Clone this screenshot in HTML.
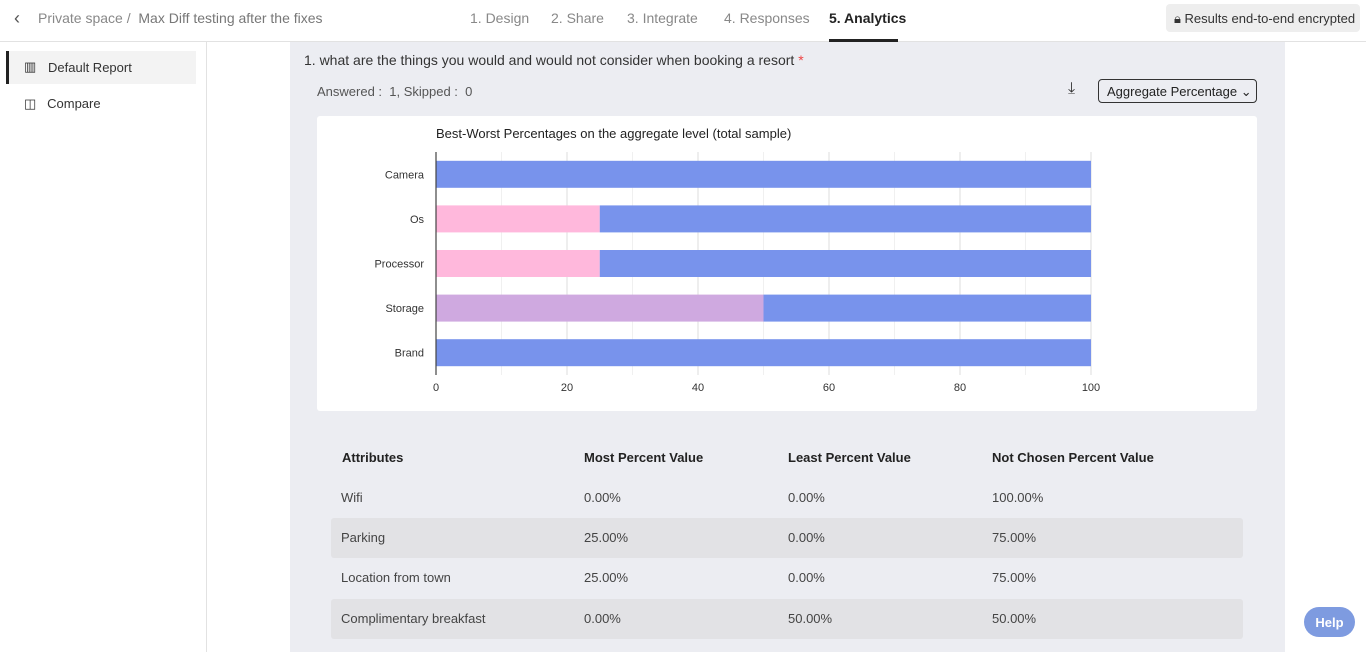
<!DOCTYPE html>
<html><head><meta charset="utf-8"><style>
*{box-sizing:border-box;margin:0;padding:0}
body{width:1366px;height:652px;overflow:hidden;background:#fff;font-family:"Liberation Sans",sans-serif;color:#333;position:relative}
.abs{position:absolute}
.top{left:0;top:0;width:1366px;height:42px;border-bottom:1px solid #e2e2e2}
.tab{top:10px;font-size:14px;color:#888}
.side{left:0;top:42px;width:207px;height:610px;border-right:1px solid #e2e2e2}
.main{left:290px;top:42px;width:995px;height:610px;background:#ecedf2}
.row{left:331px;width:912px;height:40px;font-size:13px;color:#444}
.row span{position:absolute;top:12px}
</style></head><body>
<div class="abs top">
 <div class="abs" style="left:14px;top:8px;font-size:18px;color:#555">‹</div>
 <div class="abs" style="left:38px;top:10px;font-size:14px;color:#888">Private space /&nbsp; <span style="color:#777">Max Diff testing after the fixes</span></div>
 <div class="abs tab" style="left:470px">1. Design</div>
 <div class="abs tab" style="left:551px">2. Share</div>
 <div class="abs tab" style="left:627px">3. Integrate</div>
 <div class="abs tab" style="left:724px">4. Responses</div>
 <div class="abs tab" style="left:829px;color:#222;font-weight:bold">5. Analytics</div>
 <div class="abs" style="left:829px;top:39px;width:69px;height:3px;background:#222"></div>
 <div class="abs" style="left:1166px;top:4px;width:194px;height:28px;background:#eeeeee;border-radius:4px;font-size:13px;color:#333;padding:7px 0 0 8px">🔒︎ Results end-to-end encrypted</div>
</div>
<div class="abs side">
 <div class="abs" style="left:6px;top:9px;width:190px;height:33px;background:#f3f3f3;border-left:3px solid #222">
  <span class="abs" style="left:15px;top:8px;font-size:13px">▥</span><span class="abs" style="left:39px;top:9px;font-size:13px;color:#333">Default Report</span></div>
 <div class="abs" style="left:24px;top:54px;font-size:13px;color:#333">◫ &nbsp; Compare</div>
</div>
<div class="abs main">
 <div class="abs" style="left:14px;top:10px;font-size:14px;color:#333">1. what are the things you would and would not consider when booking a resort <span style="color:#e44">*</span></div>
 <div class="abs" style="left:27px;top:42px;font-size:13px;color:#555">Answered :&nbsp; 1, Skipped :&nbsp; 0</div>
 <div class="abs" style="left:778px;top:38px;font-size:16px">⤓</div>
 <div class="abs" style="left:808px;top:37px;width:159px;height:24px;border:1px solid #333;border-radius:4px;font-size:13px;padding:4px 0 0 8px;color:#222">Aggregate Percentage ⌄</div>
 <div class="abs" style="left:27px;top:74px;width:940px;height:295px;background:#fff;border-radius:3px">
  <svg id="chart" width="940" height="295"></svg>
 </div>
 <div class="abs" style="left:52px;top:408px;font-size:13px;font-weight:bold;color:#222;width:900px;height:20px">
  <span class="abs" style="left:0">Attributes</span><span class="abs" style="left:242px">Most Percent Value</span><span class="abs" style="left:446px">Least Percent Value</span><span class="abs" style="left:650px">Not Chosen Percent Value</span></div>
</div>
<div class="abs row" style="top:478px"><span style="left:10px">Wifi</span><span style="left:253px">0.00%</span><span style="left:457px">0.00%</span><span style="left:661px">100.00%</span></div>
<div class="abs row" style="top:518px;background:#e2e2e5;border-radius:3px"><span style="left:10px">Parking</span><span style="left:253px">25.00%</span><span style="left:457px">0.00%</span><span style="left:661px">75.00%</span></div>
<div class="abs row" style="top:558px"><span style="left:10px">Location from town</span><span style="left:253px">25.00%</span><span style="left:457px">0.00%</span><span style="left:661px">75.00%</span></div>
<div class="abs row" style="top:599px;background:#e2e2e5;border-radius:3px"><span style="left:10px">Complimentary breakfast</span><span style="left:253px">0.00%</span><span style="left:457px">50.00%</span><span style="left:661px">50.00%</span></div>
<div class="abs" style="left:1304px;top:607px;width:51px;height:30px;border-radius:15px;background:#7e9be0;color:#fff;font-weight:bold;font-size:13px;text-align:center;padding-top:8px">Help</div>
<script>
const categories=["Camera","Os","Processor","Storage","Brand"];
const seriesPink=[0,25,25,0,0];
const seriesPurple=[0,0,0,50,0];
const seriesBlue=[100,75,75,50,100];
const tickValues=[0,20,40,60,80,100];
const svg=document.getElementById('chart');const NS='http://www.w3.org/2000/svg';
const x0=119,x1=774,yTop=36,yBot=259;
const xs=v=>x0+(x1-x0)*v/100;
const band=(yBot-yTop)/categories.length;
function mk(t,a){const e=document.createElementNS(NS,t);for(const k in a)e.setAttribute(k,a[k]);svg.appendChild(e);return e;}
const title=mk('text',{x:119,y:22,'font-size':13,fill:'#222','font-family':'Liberation Sans'});title.textContent='Best-Worst Percentages on the aggregate level (total sample)';


for(let v=0;v<=100;v+=10){const g=mk('line',{x1:xs(v),x2:xs(v),y1:yTop,y2:yBot,stroke:v%20?'#f0f0f0':'#dedede'});

}
tickValues.forEach(v=>{const t=mk('text',{x:xs(v),y:275,'font-size':11,'text-anchor':'middle',fill:'#333'});t.textContent=v;

});
const colors=['#ffb8dc','#cfa9e0','#7893ec'];const series=[seriesPink,seriesPurple,seriesBlue];
categories.forEach((c,i)=>{const yc=yTop+band*(i+0.5);const h=27;let acc=0;
 series.forEach((s,j)=>{if(s[i]>0){const r=mk('rect',{x:xs(acc),y:yc-h/2,width:xs(acc+s[i])-xs(acc),height:h,fill:colors[j]});
 
 }acc+=s[i];});
 const l=mk('text',{x:107,y:yc+4,'font-size':11,'text-anchor':'end',fill:'#333'});l.textContent=c;
 
 });
const ax=mk('line',{x1:x0,x2:x0,y1:yTop,y2:yBot,stroke:'#444','stroke-width':1.2});


</script>
</body></html>
